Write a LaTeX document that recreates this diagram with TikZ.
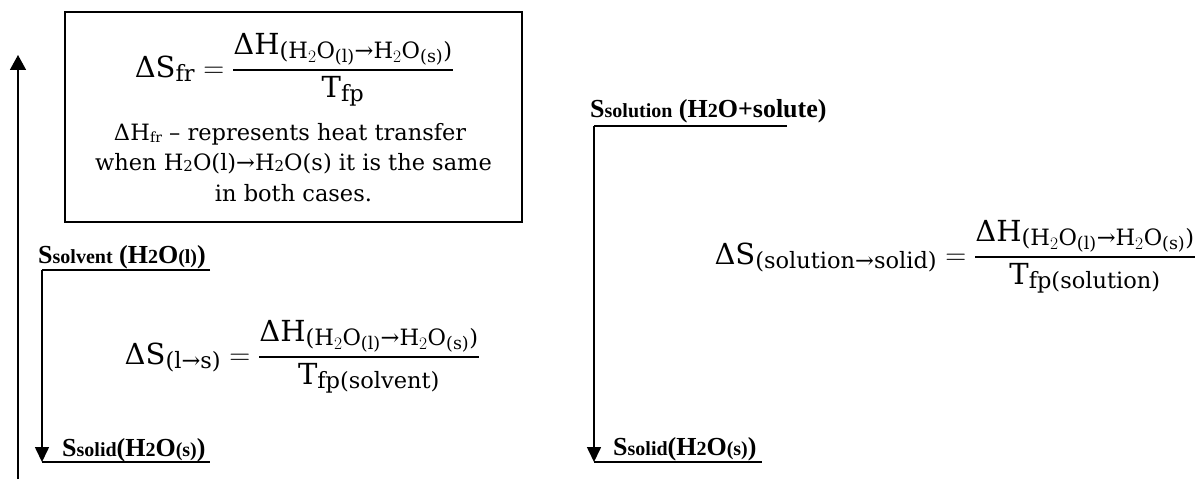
\RequirePackage{fix-cm}
\documentclass[tikz,border=0pt]{standalone}
\usepackage{amsmath}
\usepackage{fontspec}
\setmainfont{DejaVu Serif}
\newfontfamily\lblfont{Liberation Serif}
\usetikzlibrary{arrows.meta}
\DeclareMathSizes{29}{29}{22.5}{17.5}
\newcommand{\smtxt}[1]{{\fontsize{20}{24}\selectfont #1}}
\newcommand{\Dl}{\text{Δ}}
\newcommand{\ar}{\text{→}}
\newcommand{\pl}{\text{(}}
\newcommand{\pr}{\text{)}}
\newcommand{\dHnum}{\Dl\mathrm{H}_{\pl\mathrm{H}_2\mathrm{O}_{\pl\mathrm{l}\pr}\ar\mathrm{H}_2\mathrm{O}_{\pl\mathrm{s}\pr}\pr}}
\newcommand{\fr}[2]{\genfrac{}{}{2.4pt}{0}{#1}{#2}}
\begin{document}
\begin{tikzpicture}[x=1pt,y=-1pt,
  ln/.style={line width=1.6pt},
  eq/.style={inner sep=0pt, anchor=base east, font=\fontsize{29}{36}\selectfont},
  txt/.style={inner sep=0pt, anchor=base, font=\fontsize{22.5}{28}\selectfont},
  lbl/.style={inner sep=0pt, anchor=base west, font=\lblfont\bfseries\fontsize{26}{30}\selectfont},
  tip/.style={-{Triangle[length=15pt,width=14pt]}}
]
\useasboundingbox (0,0) rectangle (1199,481);

% big upward arrow
\coordinate (bigbot) at (18,479);
\coordinate (bigtop) at (18,55);
\draw[ln,-{Triangle[length=15pt,width=16pt]}] (bigbot) -- (bigtop);

% box
\node[draw, line width=1.8pt, minimum width=457pt, minimum height=210pt, inner sep=0pt] (box) at (293.5,117) {};
\node[eq] (eqtop) at (454,77.25) {$\displaystyle\Dl\mathrm{S}_{\mathrm{fr}}=\fr{\dHnum}{\mathrm{T}_{\mathrm{fp}}}$};
\node[txt] (t1) at (290,141) {Δ\kern0.5ptH\raisebox{-1.5pt}{\fontsize{14}{14}\selectfont fr} – represents heat transfer};
\node[txt] (t2) at (293.5,171) {when H\raisebox{-1pt}{\fontsize{15}{15}\selectfont 2}O(l)→H\raisebox{-1pt}{\fontsize{15}{15}\selectfont 2}O(s) it is the same};
\node[txt] (t3) at (293.5,201) {in both cases.};

% left process
\node[lbl] (solv) at (38,263) {S\smtxt{solvent} (H\smtxt{2}O\smtxt{(l)})};
\node[lbl] (solidL) at (62,456) {S\smtxt{solid}(H\smtxt{2}O\smtxt{(s)})};
\coordinate (l1) at (42,270);
\coordinate (l1e) at (210,270);
\coordinate (l2) at (42,462);
\coordinate (l2e) at (210,462);
\draw[ln] (l1e) -- (l1);
\draw[ln,tip] (l1) -- (l2);
\draw[ln] (l2) -- (l2e);
\node[eq] (eqmid) at (480,364.25) {$\displaystyle\Dl\mathrm{S}_{\pl\mathrm{l}\ar\mathrm{s}\pr}=\fr{\dHnum}{\mathrm{T}_{\mathrm{fp}\pl\mathrm{solvent}\pr}}$};

% right process
\node[lbl] (soln) at (590,118) {S\smtxt{solution} (H\smtxt{2}O+solute)};
\node[lbl] (solidR) at (613,455) {S\smtxt{solid}(H\smtxt{2}O\smtxt{(s)})};
\coordinate (r1) at (594,126);
\coordinate (r1e) at (787,126);
\coordinate (r2) at (594,462);
\coordinate (r2e) at (762,462);
\draw[ln] (r1e) -- (r1);
\draw[ln,tip] (r1) -- (r2);
\draw[ln] (r2) -- (r2e);
\node[eq] (eqright) at (1196,264.25) {$\displaystyle\Dl\mathrm{S}_{\pl\mathrm{solution}\ar\mathrm{solid}\pr}=\fr{\dHnum}{\mathrm{T}_{\mathrm{fp}\pl\mathrm{solution}\pr}}$};
\end{tikzpicture}
\end{document}
